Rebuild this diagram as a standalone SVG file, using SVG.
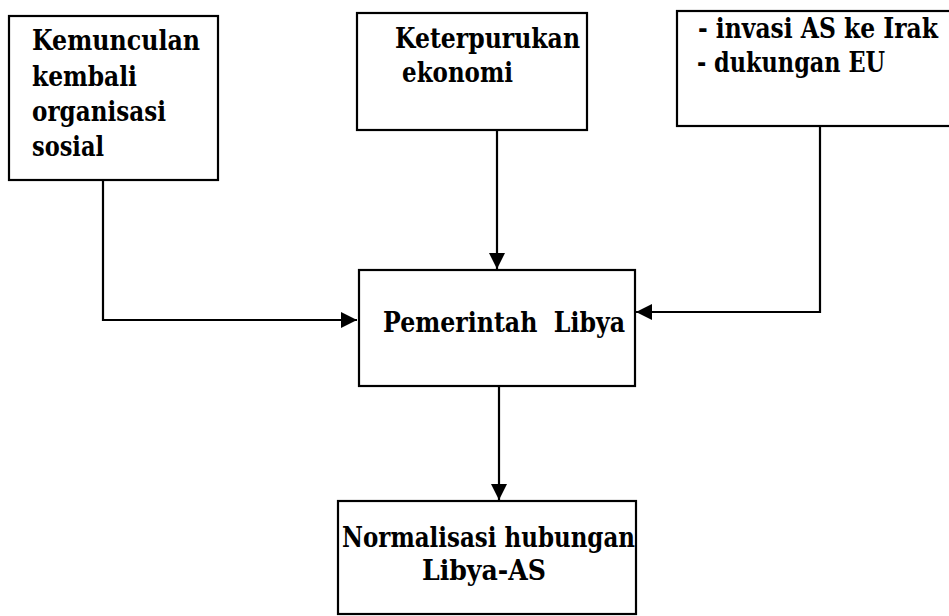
<svg xmlns="http://www.w3.org/2000/svg" width="949" height="616" viewBox="0 0 949 616">
<defs>
<style>
.box{fill:#fff;stroke:#000;stroke-width:2.2}
.t{font-family:"DejaVu Serif","Liberation Serif",serif;font-weight:bold;font-size:27px;fill:#000}
.ln{fill:none;stroke:#000;stroke-width:2.2}
</style>
<marker id="ah" viewBox="0 0 16 16" refX="16" refY="8" markerWidth="16" markerHeight="16" markerUnits="userSpaceOnUse" orient="auto">
<path d="M0,0 L16,8 L0,16 Z" fill="#000"/>
</marker>
</defs>
<rect width="949" height="616" fill="#fff"/>
<g id="connectors">
<path class="ln" d="M103,180 V320 H357" marker-end="url(#ah)"/>
<path class="ln" d="M497,130 V269" marker-end="url(#ah)"/>
<path class="ln" d="M820,126 V312 H636" marker-end="url(#ah)"/>
<path class="ln" d="M499,386 V500" marker-end="url(#ah)"/>
</g>
<g id="n1">
<rect class="box" x="9" y="16" width="209" height="164"/>
<text class="t" x="32" y="50" textLength="168" lengthAdjust="spacingAndGlyphs">Kemunculan</text>
<text class="t" x="32" y="86" textLength="105" lengthAdjust="spacingAndGlyphs">kembali</text>
<text class="t" x="32" y="121" textLength="134" lengthAdjust="spacingAndGlyphs">organisasi</text>
<text class="t" x="32" y="156" textLength="72" lengthAdjust="spacingAndGlyphs">sosial</text>
</g>
<g id="n2">
<rect class="box" x="357" y="13" width="230" height="117"/>
<text class="t" x="395" y="48" textLength="185" lengthAdjust="spacingAndGlyphs">Keterpurukan</text>
<text class="t" x="402" y="82" textLength="111" lengthAdjust="spacingAndGlyphs">ekonomi</text>
</g>
<g id="n3">
<rect class="box" x="677" y="11" width="290" height="115"/>
<text class="t" transform="translate(698,38) scale(0.8,1)" x="0" y="0" textLength="300" lengthAdjust="spacingAndGlyphs">- invasi AS ke Irak</text>
<text class="t" x="697" y="72" textLength="188" lengthAdjust="spacingAndGlyphs">- dukungan EU</text>
</g>
<g id="n4">
<rect class="box" x="359" y="270" width="276" height="116"/>
<text class="t" x="383" y="332" textLength="242" lengthAdjust="spacingAndGlyphs" xml:space="preserve">Pemerintah  Libya</text>
</g>
<g id="n5">
<rect class="box" x="338" y="501" width="298" height="113"/>
<text class="t" x="342" y="547" textLength="293" lengthAdjust="spacingAndGlyphs">Normalisasi hubungan</text>
<text class="t" x="422" y="580" textLength="124" lengthAdjust="spacingAndGlyphs">Libya-AS</text>
</g>
</svg>
